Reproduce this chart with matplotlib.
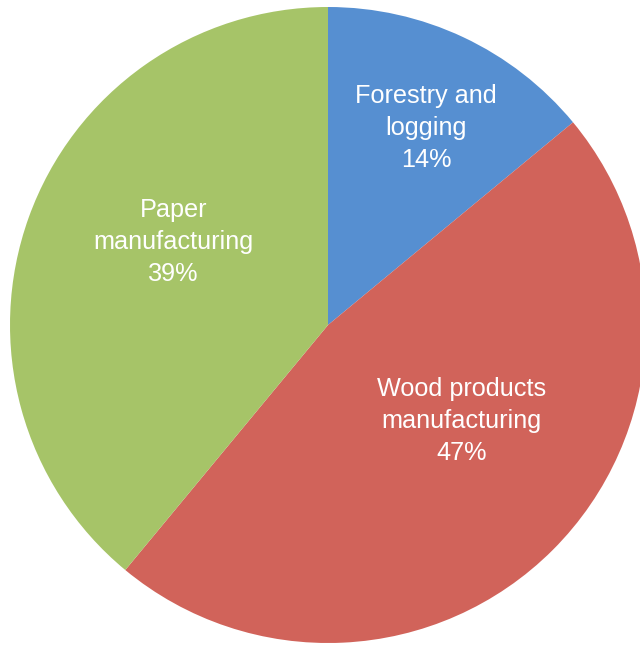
import matplotlib
matplotlib.use("Agg")
import matplotlib.pyplot as plt

categories = ["Forestry and\nlogging", "Wood products\nmanufacturing", "Paper\nmanufacturing"]
values = [14, 47, 39]
colors = ["#568FD1", "#D1635A", "#A6C468"]
label_pos = [(0.308, 0.619), (0.421, -0.302), (-0.486, 0.261)]

plt.rcParams['font.family'] = ['Liberation Sans', 'DejaVu Sans']

fig = plt.figure(figsize=(6.40, 6.45), dpi=100)
ax = fig.add_axes([0, 0, 1, 1])
ax.axis('off')

wedges, _ = ax.pie(values, colors=colors, startangle=90, counterclock=False,
                   radius=1.0, wedgeprops=dict(linewidth=0))

scale = 318.0
cx, cy = 328.0, 325.0
ax.set_xlim(-cx / scale, (640 - cx) / scale)
ax.set_ylim(-(645 - cy) / scale, cy / scale)
ax.set_aspect('auto')

for cat, v, (x, y) in zip(categories, values, label_pos):
    ax.text(x, y, f"{cat}\n{v}%", ha='center', va='center', color='white',
            fontsize=18.2, linespacing=1.42, multialignment='center')

fig.savefig("out.png", dpi=100)
